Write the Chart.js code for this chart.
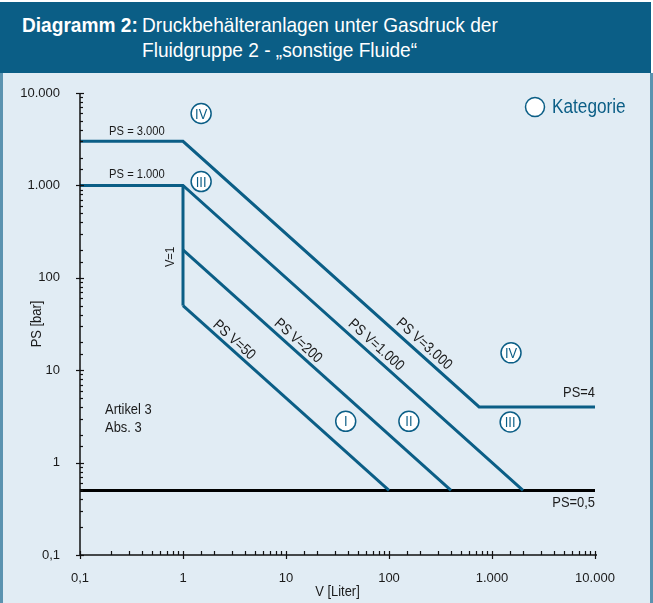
<!DOCTYPE html>
<html lang="de">
<head>
<meta charset="utf-8">
<title>Diagramm 2</title>
<script src="https://cdn.jsdelivr.net/npm/chart.js@4"></script>
<style>
  html, body { margin: 0; padding: 0; background: #fff; }
  body { width: 653px; height: 603px; position: relative; overflow: hidden;
         font-family: 'Liberation Sans', Arial, sans-serif; }
  #head { position: absolute; left: 0; top: 2px; width: 651px; height: 71px; background: #0b5e86; color: #fff; font-size: 21px; }
  #head span { position: absolute; white-space: nowrap; line-height: 24px; transform: scaleX(0.91); transform-origin: left center; }
  #panel { position: absolute; left: 0; top: 73px; width: 653px; height: 530px; box-sizing: border-box;
           background: #e1ecf4; border-left: 3px solid #5b93b0; border-right: 3px solid #5b93b0; }
  #chart { position: absolute; left: 0; top: 0; }
</style>
</head>
<body>
<div id="head">
  <span style="left:22px; top:11px; font-weight:bold;">Diagramm 2:</span>
  <span style="left:142px; top:11px;">Druckbehälteranlagen unter Gasdruck der</span>
  <span style="left:142px; top:36px;">Fluidgruppe 2 - „sonstige Fluide“</span>
</div>
<div id="panel"><canvas id="chart" width="647" height="530"></canvas></div>
<script>
const FONT = "'Liberation Sans', Arial, sans-serif";
const TEAL = '#0b5e86';
const SQUEEZE = 0.86; // schmale Schrift nachbilden

// Grenzlinien (V in Liter, PS in bar)
const limitIV_V = [0.1, 1, 750, 10000];      // PS = 3.000, PS·V = 3.000, PS = 4
const limitIV_PS = [3000, 3000, 4, 4];
const limitIII_V = [0.1, 1, 2000];           // PS = 1.000, PS·V = 1.000
const limitIII_PS = [1000, 1000, 0.5];
const limitV1_V = [1, 1];                    // V = 1
const limitV1_PS = [50, 1000];
const limitII_V = [1, 400];                  // PS·V = 200
const limitII_PS = [200, 0.5];
const limitI_V = [1, 100];                   // PS·V = 50
const limitI_PS = [50, 0.5];
const limitBase_V = [0.1, 10000];            // PS = 0,5
const limitBase_PS = [0.5, 0.5];

// Kategorie-Markierungen
const catLabels = ['IV', 'III', 'I', 'II', 'IV', 'III'];
const catV = [1.5, 1.5, 38, 156, 1530, 1500];
const catPS = [6000, 1100, 2.8, 2.8, 15.4, 2.75];

// Achsen
const axisMin = 0.1;
const axisMax = 10000;

function pts(vs, ps) {
    return vs.map((v, i) => ({ x: v, y: ps[i] }));
}

function lineSet(vs, ps, color) {
    return {
        type: 'line',
        data: pts(vs, ps),
        borderColor: color,
        borderWidth: 3,
        borderJoinStyle: 'miter',
        pointRadius: 0,
        fill: false,
        tension: 0,
        order: 2
    };
}

// Beschriftungen (Position in Datenkoordinaten)
const notes = [
    { text: 'PS = 3.000', v: 0.357, ps: 3800, align: 'center', size: 13 },
    { text: 'PS = 1.000', v: 0.357, ps: 1300, align: 'center', size: 13 },
    { text: 'V=1', v: 0.75, ps: 168, align: 'center', size: 13, rot: 'up' },
    { text: 'PS V=50', v: 3.13, ps: 21.2, align: 'center', size: 15, rot: 'diag' },
    { text: 'PS V=200', v: 13.1, ps: 20.7, align: 'center', size: 15, rot: 'diag' },
    { text: 'PS V=1.000', v: 74.8, ps: 18.7, align: 'center', size: 15, rot: 'diag' },
    { text: 'PS V=3.000', v: 219, ps: 19.2, align: 'center', size: 15, rot: 'diag' },
    { text: 'PS=4', v: 10000, ps: 5.66, align: 'right', size: 15 },
    { text: 'PS=0,5', v: 10000, ps: 0.365, align: 'right', size: 15 },
    { text: 'Artikel 3', v: 0.175, ps: 3.7, align: 'left', size: 15 },
    { text: 'Abs. 3', v: 0.175, ps: 2.37, align: 'left', size: 15 }
];

function narrowText(ctx, text, px, py, size, align, angle) {
    ctx.save();
    ctx.font = size + 'px ' + FONT;
    ctx.textAlign = align;
    ctx.textBaseline = 'middle';
    ctx.translate(px, py);
    if (angle) ctx.rotate(angle);
    ctx.scale(SQUEEZE, 1);
    ctx.fillText(text, 0, 0);
    ctx.restore();
}

const decorPlugin = {
    id: 'decor',
    afterDatasetsDraw(chart) {
        const { ctx, chartArea: a, scales: { x, y } } = chart;
        ctx.save();
        // Achsenlinien
        ctx.strokeStyle = '#111';
        ctx.lineWidth = 1.5;
        ctx.beginPath();
        ctx.moveTo(a.left, a.top);
        ctx.lineTo(a.left, a.bottom);
        ctx.lineTo(a.right + 2, a.bottom);
        ctx.stroke();
        // Teilstriche
        ctx.lineWidth = 1.2;
        x.ticks.forEach(t => {
            const px = Math.round(x.getPixelForValue(t.value)) + 0.5;
            const major = t.label !== '';
            ctx.beginPath();
            ctx.moveTo(px, a.bottom - 4);
            ctx.lineTo(px, a.bottom + (major ? 4 : 0));
            ctx.stroke();
        });
        y.ticks.forEach(t => {
            const py = Math.round(y.getPixelForValue(t.value)) + 0.5;
            const major = t.label !== '';
            ctx.beginPath();
            ctx.moveTo(a.left - (major ? 4 : 0), py);
            ctx.lineTo(a.left + (major ? 4 : 3), py);
            ctx.stroke();
        });

        // Achsentitel
        ctx.fillStyle = '#1a1a1a';
        narrowText(ctx, 'V [Liter]', (a.left + a.right) / 2, a.bottom + 37, 15, 'center');
        narrowText(ctx, 'PS [bar]', 34, y.getPixelForValue(Math.sqrt(10) * 10), 15, 'center', -Math.PI / 2);

        // Beschriftungen
        const diag = Math.atan2(y.getPixelForValue(1) - y.getPixelForValue(10),
                                x.getPixelForValue(10) - x.getPixelForValue(1));
        notes.forEach(n => {
            const ang = n.rot === 'diag' ? diag : (n.rot === 'up' ? -Math.PI / 2 : 0);
            narrowText(ctx, n.text, x.getPixelForValue(n.v), y.getPixelForValue(n.ps), n.size, n.align, ang);
        });

        // Kategorie-Kennzeichnung in den Kreisen
        const meta = chart.getDatasetMeta(0);
        ctx.fillStyle = TEAL;
        meta.data.forEach((pt, i) => {
            narrowText(ctx, catLabels[i], pt.x, pt.y + 1, 15, 'center');
        });

        // Legende
        const lx = a.right - 60, ly = a.top + 14;
        ctx.beginPath();
        ctx.arc(lx, ly, 9.5, 0, Math.PI * 2);
        ctx.fillStyle = '#fff';
        ctx.fill();
        ctx.strokeStyle = TEAL;
        ctx.lineWidth = 1.5;
        ctx.stroke();
        ctx.fillStyle = TEAL;
        narrowText(ctx, 'Kategorie', lx + 17, ly, 20, 'left');
        ctx.restore();
    }
};

function tickLabel(value) {
    const e = Math.log10(value);
    if (Math.abs(e - Math.round(e)) > 1e-6) return '';
    return Number(value).toLocaleString('de-DE');
}

const ctx = document.getElementById('chart').getContext('2d');
new Chart(ctx, {
    type: 'scatter',
    data: {
        datasets: [
            {
                data: pts(catV, catPS),
                pointRadius: 10,
                pointBackgroundColor: '#fff',
                pointBorderColor: TEAL,
                pointBorderWidth: 1.5,
                showLine: false,
                order: 0
            },
            lineSet(limitIV_V, limitIV_PS, TEAL),
            lineSet(limitIII_V, limitIII_PS, TEAL),
            lineSet(limitV1_V, limitV1_PS, TEAL),
            lineSet(limitII_V, limitII_PS, TEAL),
            lineSet(limitI_V, limitI_PS, TEAL),
            lineSet(limitBase_V, limitBase_PS, '#000')
        ]
    },
    options: {
        responsive: false,
        devicePixelRatio: 1,
        animation: false,
        layout: { padding: { top: 20, right: 55, bottom: 0, left: 0 } },
        plugins: {
            legend: { display: false },
            tooltip: { enabled: false }
        },
        scales: {
            x: {
                type: 'logarithmic',
                min: axisMin,
                max: axisMax,
                grid: { display: false },
                border: { display: false },
                ticks: {
                    callback: tickLabel,
                    autoSkip: false,
                    maxRotation: 0,
                    padding: 8,
                    color: '#1a1a1a',
                    font: { family: FONT, size: 13 }
                },
                afterFit: s => { s.height = 48; }
            },
            y: {
                type: 'logarithmic',
                min: axisMin,
                max: axisMax,
                grid: { display: false },
                border: { display: false },
                ticks: {
                    callback: tickLabel,
                    autoSkip: false,
                    padding: 12,
                    color: '#1a1a1a',
                    font: { family: FONT, size: 13 }
                },
                afterFit: s => { s.width = 77; }
            }
        }
    },
    plugins: [decorPlugin]
});
</script>
</body>
</html>
